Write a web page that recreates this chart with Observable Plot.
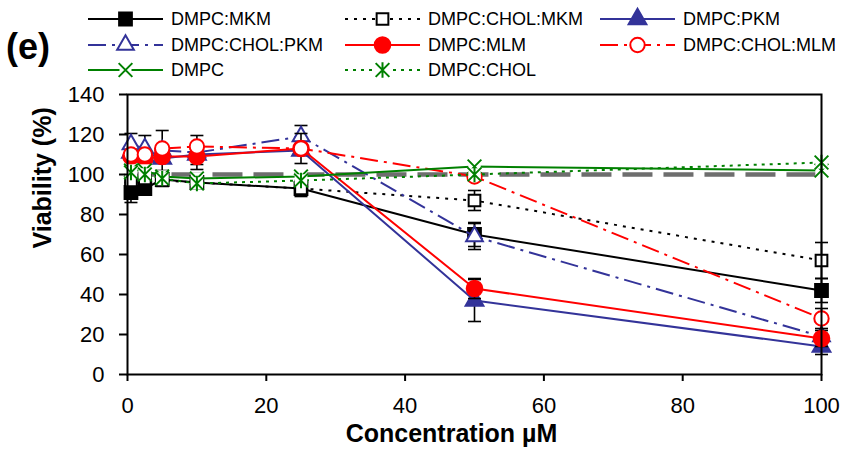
<!DOCTYPE html>
<html><head><meta charset="utf-8">
<script src="https://cdn.jsdelivr.net/npm/d3@7"></script>
<script src="https://cdn.jsdelivr.net/npm/@observablehq/plot@0.6"></script>
<style>
html,body{margin:0;padding:0;background:#fff;}
#wrap{width:844px;height:456px;overflow:hidden;font-family:"Liberation Sans",Arial,sans-serif;}
svg{display:block;}
</style></head><body><div id="wrap"></div>
<script>
// ---- data ----
const concentrations = [0.5, 2.5, 5, 10, 25, 50, 100];
const seriesNames = ["DMPC:MKM","DMPC:CHOL:MKM","DMPC:PKM","DMPC:CHOL:PKM","DMPC:MLM","DMPC:CHOL:MLM","DMPC","DMPC:CHOL"];
const vMKM      = [91, 93, 97.5, 96, 93, 70, 42];
const vCholMKM  = [97, 98, 97, 96, 93, 87, 57];
const vPKM      = [111, 109, 108, 110, 112, 37, 14];
const vCholPKM  = [115, 113, 112, 111, 119, 69, 19];
const vMLM      = [109, 108, 109, 109, 113, 43, 18];
const vCholMLM  = [110, 110, 113, 114, 113, 99, 28];
const vDMPC     = [102, 102, 99, 98, 99, 104, 102];
const vDMPCChol = [101, 100, 98, 95.5, 97, 100, 106];
const eMKM      = [5, 0, 0, 0, 4, 6, 6];
const eCholMKM  = [0, 0, 0, 0, 0, 5, 9];
const ePKM      = [0, 0, 0, 0, 0, 10.5, 4];
const eCholPKM  = [5.5, 6.5, 10, 8.5, 5.5, 6.5, 0];
const eMLM      = [0, 0, 0, 4, 7.5, 5, 4];
const eCholMLM  = [0, 0, 0, 0, 0, 0, 5];
const eDMPC     = [0, 0, 0, 0, 0, 0, 0];
const eDMPCChol = [0, 0, 0, 0, 0, 0, 0];
const controlLevel = 100;
const xTicks = [0, 20, 40, 60, 80, 100];
const yTicks = [0, 20, 40, 60, 80, 100, 120, 140];
const panelLabel = "(e)";
const xTitle = "Concentration µM";
const yTitle = "Viability (%)";

const values = [vMKM, vCholMKM, vPKM, vCholPKM, vMLM, vCholMLM, vDMPC, vDMPCChol];
const errors = [eMKM, eCholMKM, ePKM, eCholPKM, eMLM, eCholMLM, eDMPC, eDMPCChol];

// ---- styles ----
const FONT = "Liberation Sans, Arial, sans-serif";
const NAVY = "#333399", RED = "#ff0000", GREEN = "#008000";
const starSym = {draw(ctx, size){ const r = Math.sqrt(size/Math.PI)*0.95;
  ctx.moveTo(-r,-r); ctx.lineTo(r,r); ctx.moveTo(-r,r); ctx.lineTo(r,-r); ctx.moveTo(0,-r*1.15); ctx.lineTo(0,r*1.15);} };
const timesSym = {draw(ctx, size){ const r = Math.sqrt(size/Math.PI)*0.95;
  ctx.moveTo(-r,-r); ctx.lineTo(r,r); ctx.moveTo(-r,r); ctx.lineTo(r,-r);} };
const capSym = {draw(ctx, size){ const r = Math.sqrt(size/Math.PI);
  ctx.moveTo(-r,0); ctx.lineTo(r,0);} };
const styles = [
  {color:"#000", dash:null,        symbol:"square",   fill:"#000", r:7.2},
  {color:"#000", dash:"3,6",       symbol:"square",   fill:"#fff", r:6.6},
  {color:NAVY,   dash:null,        symbol:"triangle", fill:NAVY,  r:6.6},
  {color:NAVY,   dash:"18,6,3,6",  symbol:"triangle", fill:"#fff", r:6.2},
  {color:RED,    dash:null,        symbol:"circle",   fill:RED,   r:7.8},
  {color:RED,    dash:"18,6,3,6",  symbol:"circle",   fill:"#fff", r:7.2},
  {color:GREEN,  dash:null,        symbol:timesSym,   fill:"none", r:7.2, back:true},
  {color:GREEN,  dash:"3,5",       symbol:starSym,    fill:"none", r:7.2, back:true}
];

// ---- tables ----
const tables = values.map((vals, i) => vals.map((v, j) => ({x: concentrations[j], y: v, e: errors[i][j], name: seriesNames[i]})));

const marks = [
  Plot.ruleY([controlLevel], {x1: concentrations[0], x2: concentrations[concentrations.length-1], stroke:"#6e6e6e", strokeWidth:4.5, strokeDasharray:"30,11"})
];
tables.forEach((t, i) => {
  const s = styles[i];
  marks.push(Plot.line(t, {x:"x", y:"y", stroke:s.color, strokeWidth:2, strokeDasharray:s.dash, strokeLinecap: s.dash ? "butt" : "round"}));
  const eb = t.filter(d => d.e > 0);
  marks.push(Plot.ruleX(eb, {x:"x", y1:d => d.y - d.e, y2:d => d.y + d.e, stroke:"#000", strokeWidth:1.6}));
  const caps = eb.flatMap(d => [{x:d.x, y:d.y - d.e}, {x:d.x, y:d.y + d.e}]);
  marks.push(Plot.dot(caps, {x:"x", y:"y", symbol:capSym, r:6.5, stroke:"#000", strokeWidth:1.6}));
  if (s.back) marks.push(Plot.dot(t, {x:"x", y:"y", symbol:"square", r:7, fill:"#fff"}));
  marks.push(Plot.dot(t, {x:"x", y:"y", symbol:s.symbol, r:s.r, fill:s.fill, stroke:s.color, strokeWidth:2}));
});
marks.push(Plot.frame({stroke:"#000", strokeWidth:2}));
marks.push(Plot.axisX({ticks:xTicks, tickSize:7, tickPadding:16, strokeWidth:2, label:null}));
marks.push(Plot.axisY({ticks:yTicks, tickSize:8, tickPadding:15, strokeWidth:2, label:null}));
marks.push(Plot.text([xTitle], {frameAnchor:"bottom", dx:-23, dy:67, fontWeight:"bold", fontSize:25}));
marks.push(Plot.text([yTitle], {frameAnchor:"left", dx:-85, dy:14, rotate:-90, fontWeight:"bold", fontSize:25}));

// ---- legend ----
const wrap = d3.select("#wrap");
const leg = wrap.append("svg").attr("width", 844).attr("height", 80).style("overflow", "visible");
leg.append("text").text(panelLabel).attr("x", 6).attr("y", 46).attr("dominant-baseline", "central")
  .attr("font-family", FONT).attr("font-weight", "bold").attr("font-size", 36);
const colX = [88, 345, 600], rowY = [19, 45, 70], lineLen = 75;
seriesNames.forEach((name, i) => {
  const s = styles[i];
  const g = leg.append("g").attr("transform", `translate(${colX[i % 3]},${rowY[Math.floor(i / 3)]})`);
  g.append("line").attr("x1", 0).attr("x2", lineLen).attr("y1", 0).attr("y2", 0)
    .attr("stroke", s.color).attr("stroke-width", 2).attr("stroke-dasharray", s.dash);
  const sym = typeof s.symbol === "string" ? {square:d3.symbolSquare, triangle:d3.symbolTriangle, circle:d3.symbolCircle}[s.symbol] : s.symbol;
  if (s.back) g.append("rect").attr("x", lineLen/2 - 6).attr("y", -6).attr("width", 12).attr("height", 12).attr("fill", "#fff");
  g.append("path").attr("transform", `translate(${lineLen/2},0)`)
    .attr("d", d3.symbol(sym, Math.PI * s.r * s.r)())
    .attr("fill", s.fill).attr("stroke", s.color).attr("stroke-width", 2);
  g.append("text").text(name).attr("x", lineLen + 8).attr("y", 0).attr("dy", "0.36em")
    .attr("font-family", FONT).attr("font-size", 18).attr("fill", "#000");
});

const chart = Plot.plot({
  width: 844, height: 376,
  marginLeft: 127, marginRight: 23, marginTop: 14, marginBottom: 82,
  style: {fontFamily: FONT, fontSize: "22px", color: "#000", background: "#fff"},
  x: {domain: [0, 100]},
  y: {domain: [0, 140]},
  marks
});
wrap.node().appendChild(chart);
</script>
</body></html>
